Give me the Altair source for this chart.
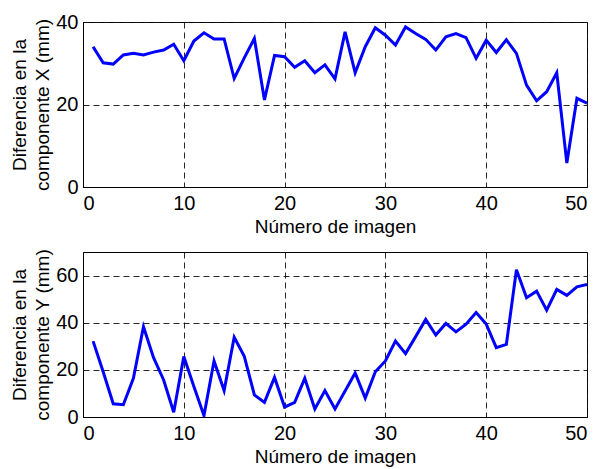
import altair as alt
import pandas as pd

imagen = [1, 2, 3, 4, 5, 6, 7, 8, 9, 10,
          11, 12, 13, 14, 15, 16, 17, 18, 19, 20,
          21, 22, 23, 24, 25, 26, 27, 28, 29, 30,
          31, 32, 33, 34, 35, 36, 37, 38, 39, 40,
          41, 42, 43, 44, 45, 46, 47, 48, 49, 50]

dif_x = [34.0, 30.1, 29.8, 32.0, 32.4, 32.0, 32.7, 33.2, 34.6, 30.6,
         35.4, 37.4, 35.9, 35.9, 26.3, 31.3, 36.0, 21.1, 31.9, 31.6,
         29.0, 30.6, 27.7, 29.6, 26.2, 37.6, 27.7, 34.0, 38.6, 36.8,
         34.4, 38.8, 37.2, 35.8, 33.2, 36.4, 37.2, 36.2, 31.2, 35.6,
         32.6, 35.7, 32.4, 24.7, 20.9, 23.1, 27.7, 5.8, 21.5, 20.3]

dif_y = [32.2, 19.2, 5.6, 5.2, 16.4, 38.3, 25.2, 15.7, 2.0, 25.7,
         12.9, 0.6, 23.8, 11.2, 33.8, 25.7, 9.4, 6.2, 16.8, 4.2,
         6.2, 16.4, 3.4, 11.2, 3.4, 11.0, 18.7, 8.0, 19.2, 23.8,
         32.2, 26.9, 34.1, 41.4, 34.8, 39.7, 36.1, 39.4, 44.3, 39.4,
         29.4, 30.8, 62.5, 50.6, 53.4, 45.3, 54.1, 51.6, 55.2, 56.2]

x_ticks = [0, 10, 20, 30, 40, 50]
y_ticks_top = [0, 20, 40]
y_ticks_bottom = [0, 20, 40, 60]

x_title = "Número de imagen"
y_title_top = ["Diferencia en la", "componente X (mm)"]
y_title_bottom = ["Diferencia en la", "componente Y (mm)"]

df = pd.DataFrame({"imagen": imagen, "dx": dif_x, "dy": dif_y})

FONT = "Liberation Sans"


def panel(field, ymax, yticks, ytitle):
    return alt.Chart(df).mark_line(color="#0000FF", strokeWidth=3, clip=True).encode(
        x=alt.X("imagen:Q",
                scale=alt.Scale(domain=[0, 50], nice=False, zero=False),
                axis=alt.Axis(values=x_ticks, title=x_title, format="d")),
        y=alt.Y(f"{field}:Q",
                scale=alt.Scale(domain=[0, ymax], nice=False),
                axis=alt.Axis(values=yticks, title=ytitle, format="d")),
    ).properties(width=504, height=165)


top = panel("dx", 40, y_ticks_top, y_title_top)
bottom = panel("dy", 70, y_ticks_bottom, y_title_bottom)

chart = alt.vconcat(top, bottom, spacing=65, bounds="flush").properties(
    padding={"left": 2, "top": 3, "right": 0, "bottom": 0}
).configure_view(
    stroke="black", strokeWidth=1
).configure_axis(
    grid=True, gridDash=[6, 4], gridColor="#111111", gridWidth=1, gridOpacity=0.9,
    domain=True, domainColor="black", domainWidth=1,
    ticks=False,
    labelFont=FONT, labelFontSize=20, labelColor="black", labelPadding=5,
    titleFont=FONT, titleFontSize=19, titleColor="black", titleFontWeight="normal",
    titleLineHeight=23,
).configure_axisX(
    labelPadding=6, titlePadding=4,
).configure_axisY(
    titlePadding=3,
)

chart.save("out.html", embed_options={"renderer": "svg", "actions": False})
